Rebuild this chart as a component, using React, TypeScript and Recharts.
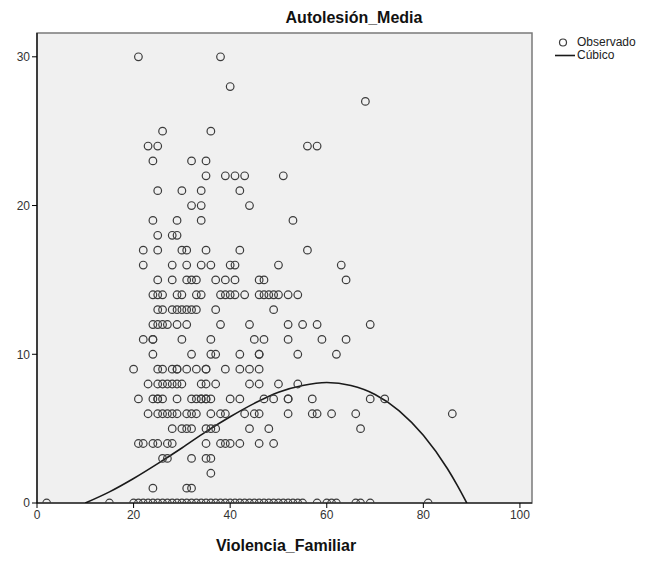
import React from "react";
import { ComposedChart, Scatter, Line, XAxis, YAxis, ReferenceArea } from "recharts";

// Autolesión_Media rows (y) and the Violencia_Familiar values seen on each row
const autolesion = [30, 28, 27, 25, 24, 23, 22, 21, 20, 19, 18, 17, 16, 15, 14, 13, 12, 11, 10, 9, 8, 7, 6, 5, 4, 3, 2, 1, 0];
const violencia: number[][] = [
  [21, 38],
  [40],
  [68],
  [26, 36],
  [23, 25, 56, 58],
  [24, 32, 35],
  [35, 39, 41, 43, 51],
  [25, 30, 34, 42],
  [32, 34, 44],
  [24, 29, 34, 53],
  [25, 28, 29],
  [22, 25, 30, 31, 35, 42, 56],
  [22, 28, 31, 34, 36, 40, 41, 50, 63],
  [25, 28, 31, 32, 33, 37, 39, 41, 46, 47, 64],
  [24, 25, 26, 29, 30, 33, 34, 38, 39, 40, 41, 43, 46, 47, 48, 49, 50, 52, 54],
  [25, 26, 28, 29, 30, 31, 32, 33, 37, 49],
  [24, 25, 26, 27, 29, 31, 38, 44, 52, 55, 58, 69],
  [22, 24, 24, 30, 36, 45, 47, 52, 59, 64],
  [24, 32, 36, 37, 42, 46, 46, 54, 62],
  [20, 25, 26, 28, 29, 29, 31, 33, 35, 35, 39, 42, 44, 46],
  [23, 25, 26, 27, 28, 29, 30, 34, 35, 37, 44, 46, 50, 54],
  [21, 24, 25, 25, 26, 29, 32, 33, 34, 34, 35, 35, 36, 40, 42, 47, 49, 52, 52, 57, 69, 72],
  [23, 25, 26, 27, 28, 29, 31, 32, 33, 36, 38, 39, 43, 45, 46, 52, 57, 58, 61, 66, 86],
  [28, 30, 31, 32, 35, 36, 37, 44, 48, 67],
  [21, 22, 24, 25, 27, 28, 35, 38, 39, 40, 42, 46, 49],
  [26, 27, 32, 35, 36],
  [36],
  [24, 31, 32],
  [2, 15, 20, 21, 22, 23, 24, 25, 26, 27, 28, 29, 30, 31, 32, 33, 34, 35, 36, 37, 38, 39, 40, 41, 42, 43, 44, 45, 46, 47, 48, 49, 50, 51, 52, 53, 54, 55, 58, 60, 61, 62, 66, 67, 69, 81],
];

// cubic fit
const cubicX = [10, 15, 20, 25, 30, 35, 40, 45, 50, 55, 60, 65, 70, 75, 80, 85, 87, 89];
const cubicY = [0, 0.75, 1.65, 2.65, 3.7, 4.8, 5.8, 6.7, 7.45, 7.9, 8.1, 7.9, 7.3, 6.2, 4.55, 2.3, 1.2, 0];

const xTicks = [0, 20, 40, 60, 80, 100];
const yTicks = [0, 10, 20, 30];

const observed = autolesion.flatMap((y, i) => violencia[i].map((x) => ({ x, y })));
const cubic = cubicX.map((x, i) => ({ x, y: cubicY[i] }));

const FONT = "'Liberation Sans', Arial, sans-serif";
const X_MAX = 102.5;
const Y_MAX = 31.6;

const OpenCircle = (props: any) => (
  <circle cx={props.cx} cy={props.cy} r={3.8} fill="none" stroke="#3c3c3c" strokeWidth={1.2} />
);

export default function App() {
  return (
    <div style={{ position: "absolute", left: 0, top: 0, width: 652, height: 561, background: "#fff", fontFamily: FONT }}>
      <ComposedChart width={652} height={561} margin={{ top: 33, right: 120, bottom: 28, left: 0 }}>
        <ReferenceArea x1={0} x2={X_MAX} y1={0} y2={Y_MAX} fill="#f0f0f0" fillOpacity={1} stroke="#7a7a7a" strokeWidth={1.5} />
        <XAxis
          type="number"
          dataKey="x"
          domain={[0, X_MAX]}
          ticks={xTicks}
          allowDataOverflow
          height={30}
          tickSize={5}
          axisLine={{ stroke: "#000", strokeWidth: 1.2 }}
          tickLine={{ stroke: "#000" }}
          tick={{ fill: "#333", fontSize: 12, fontFamily: FONT }}
        />
        <YAxis
          type="number"
          dataKey="y"
          domain={[0, Y_MAX]}
          ticks={yTicks}
          allowDataOverflow
          width={37}
          tickSize={5}
          axisLine={{ stroke: "#000", strokeWidth: 1.2 }}
          tickLine={{ stroke: "#000" }}
          tick={{ fill: "#333", fontSize: 12, fontFamily: FONT }}
        />
        <Scatter data={observed} dataKey="y" shape={OpenCircle} isAnimationActive={false} />
        <Line data={cubic} dataKey="y" type="monotone" stroke="#1a1a1a" strokeWidth={1.6} dot={false} isAnimationActive={false} />
      </ComposedChart>

      <div style={{ position: "absolute", left: 0, width: 708, top: 9, textAlign: "center", fontWeight: "bold", fontSize: 16, color: "#111" }}>
        Autolesión_Media
      </div>
      <div style={{ position: "absolute", left: 0, width: 572, top: 537, textAlign: "center", fontWeight: "bold", fontSize: 16, color: "#111" }}>
        Violencia_Familiar
      </div>

      <div style={{ position: "absolute", left: 555, top: 36, fontSize: 12, color: "#222", lineHeight: "13px" }}>
        <div style={{ display: "flex", alignItems: "center" }}>
          <svg width={20} height={13}>
            <circle cx={8} cy={6.5} r={3.5} fill="none" stroke="#3c3c3c" strokeWidth={1.2} />
          </svg>
          <span style={{ marginLeft: 2 }}>Observado</span>
        </div>
        <div style={{ display: "flex", alignItems: "center" }}>
          <svg width={20} height={13}>
            <line x1={0} y1={6.5} x2={20} y2={6.5} stroke="#1a1a1a" strokeWidth={1.6} />
          </svg>
          <span style={{ marginLeft: 2 }}>Cúbico</span>
        </div>
      </div>
    </div>
  );
}
